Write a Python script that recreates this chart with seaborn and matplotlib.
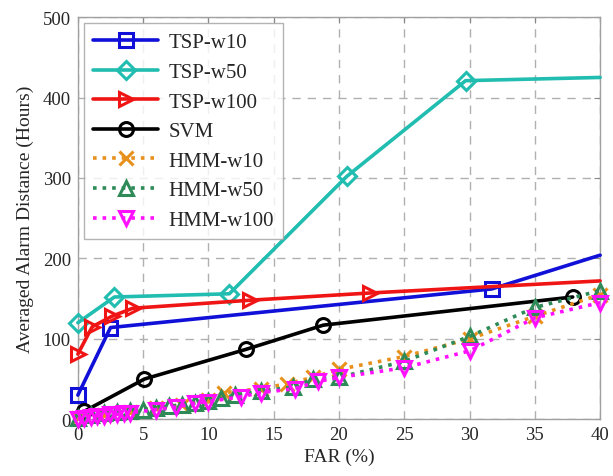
import numpy as np
import pandas as pd
import seaborn as sns
import matplotlib
matplotlib.use("Agg")
import matplotlib.pyplot as plt

# ---- data ----
tsp_w10_x = [0, 2.5, 31.7, 40]
tsp_w10_y = [30, 114, 162, 204]

tsp_w50_x = [0, 2.8, 11.6, 20.6, 29.7, 40]
tsp_w50_y = [120, 152, 156, 302, 421, 425]

tsp_w100_x = [0, 1.1, 2.6, 4.2, 13.2, 22.4, 40]
tsp_w100_y = [81, 115, 128, 138, 148, 157, 172]

svm_x = [0.5, 5.1, 12.9, 18.8, 37.9]
svm_y = [10, 50, 87, 117, 152]

hmm_w10_x = [0, 2, 4, 6, 8, 10, 11.2, 14, 16, 18, 20, 25, 30, 35, 40]
hmm_w10_y = [2, 5, 9, 14, 18, 24, 33, 38, 44, 52, 62, 78, 100, 128, 155]

hmm_w50_x = [0, 1, 2, 3, 4, 5, 6, 7, 8, 9, 10, 11, 12, 14, 16.5, 18, 20, 25, 30, 35, 40]
hmm_w50_y = [2, 5, 8, 9, 10, 12, 14, 16, 18, 20, 23, 26, 30, 35, 40, 50, 52, 72, 103, 139, 160]

hmm_w100_x = [0, 0.5, 1, 1.5, 2, 2.5, 3, 3.5, 4, 6, 7.5, 9, 10, 12.5, 14, 16.6, 18.4, 20, 25, 30, 35, 40]
hmm_w100_y = [0, 2, 3, 4, 4, 6, 6, 8, 8, 12, 15, 20, 22, 28, 33, 38, 47, 52, 64, 85, 126, 145]

x_ticks = [0, 5, 10, 15, 20, 25, 30, 35, 40]
y_ticks = [0, 100, 200, 300, 400, 500]

# ---- style ----
sns.set_style("white")
plt.rcParams['font.family'] = ['Liberation Serif', 'DejaVu Serif']

fig = plt.figure(figsize=(6.13, 4.77), dpi=100)
ax = fig.add_axes([0.127, 0.119, 0.852, 0.843])

series = [
    ("TSP-w10", tsp_w10_x, tsp_w10_y, "#1010d8", "s", "-", True),
    ("TSP-w50", tsp_w50_x, tsp_w50_y, "#20bdb0", "D", "-", True),
    ("TSP-w100", tsp_w100_x, tsp_w100_y, "#f01515", ">", "-", True),
    ("SVM", svm_x, svm_y, "#000000", "o", "-", False),
    ("HMM-w10", hmm_w10_x, hmm_w10_y, "#e8901c", "x", ":", False),
    ("HMM-w50", hmm_w50_x, hmm_w50_y, "#2e8b57", "^", ":", False),
    ("HMM-w100", hmm_w100_x, hmm_w100_y, "#ff10ff", "v", ":", False),
]

for name, xs, ys, col, mk, ls, skip_last in series:
    df = pd.DataFrame({"x": xs, "y": ys})
    n = len(xs)
    me = list(range(n - 1)) if skip_last else None
    msize = 10 if mk not in ("D",) else 9
    sns.lineplot(data=df, x="x", y="y", ax=ax, color=col, linestyle=ls,
                 linewidth=2.6, marker=mk, markersize=msize,
                 markerfacecolor="none", markeredgecolor=col, markeredgewidth=2.2,
                 markevery=me, estimator=None, sort=False, label=name,
                 clip_on=False, zorder=3)

ax.set_xlim(0, 40)
ax.set_ylim(0, 500)
ax.set_xticks(x_ticks)
ax.set_yticks(y_ticks)
ax.tick_params(axis='both', direction='in', labelsize=13.5, length=4, color='#888888', pad=5,
               top=True, right=True)
ax.grid(True, linestyle=(0, (6, 5)), color='#b0b0b0', linewidth=1.0)
ax.set_axisbelow(True)
for s in ax.spines.values():
    s.set_color('#a0a0a0')
    s.set_linewidth(1.0)
    s.set_zorder(1)

ax.set_xlabel("FAR (%)", fontsize=14, labelpad=3)
ax.set_ylabel("Averaged Alarm Distance (Hours)", fontsize=14, labelpad=6)

leg = ax.legend(loc="upper left", fontsize=15, frameon=True, fancybox=False,
                handlelength=3.1, handletextpad=0.5, borderpad=0.45,
                labelspacing=0.48, borderaxespad=0.3)
leg.get_frame().set_edgecolor('#a0a0a0')
leg.get_frame().set_linewidth(1.0)
leg.set_zorder(5)

fig.savefig("out.png", dpi=100)
